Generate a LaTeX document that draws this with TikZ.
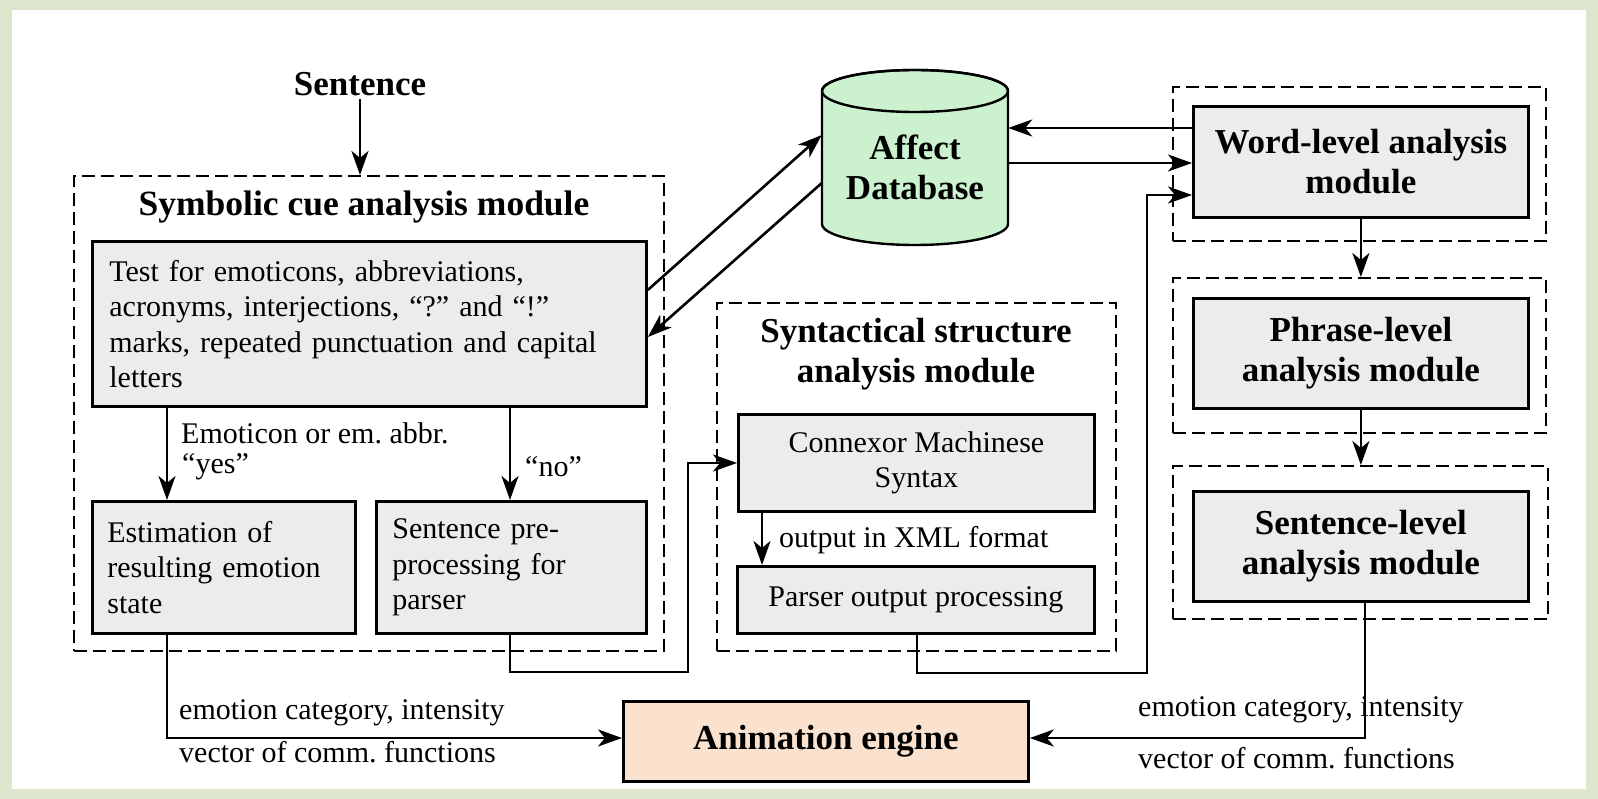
\documentclass[tikz,border=0pt]{standalone}
\usepackage{fontspec}
\setmainfont{Liberation Serif}
\usetikzlibrary{arrows.meta}
\definecolor{framegreen}{RGB}{220,230,204}
\definecolor{boxfill}{RGB}{236,236,236}
\definecolor{dbfill}{RGB}{203,241,207}
\definecolor{animfill}{RGB}{251,226,206}
\frenchspacing
\begin{document}
\begin{tikzpicture}[x=1pt,y=-1pt,
  body/.style={font=\fontsize{30}{35.5}\selectfont},
  head/.style={font=\bfseries\fontsize{35}{40}\selectfont},
  lbl/.style={body, anchor=west, inner sep=0pt},
  procbox/.style={draw, line width=2.8pt, fill=boxfill, anchor=north west, inner sep=0pt},
  modbox/.style={draw, line width=2.4pt, dash pattern=on 13pt off 6pt, anchor=north west, inner sep=0pt},
  arr/.style={line width=2.6pt, -{Stealth[length=24pt,width=17pt,inset=7pt]}},
]
\fill[framegreen] (0,0) rectangle (1598,799);
\fill[white] (12,10) rectangle (1586,789);
\useasboundingbox (0,0) rectangle (1598,799);

% Symbolic cue analysis module
\node[modbox, minimum width=590, minimum height=475] (symmod) at (73,175) {};
\node[font=\bfseries\fontsize{35.5}{40}\selectfont] (symtitle) at (364,207) {Symbolic cue analysis module};
\node[head] (sent) at (360,84) {Sentence};
\draw[arr] (sent.south) -- (sent.south |- symmod.north);

\node[procbox, body, minimum width=554, minimum height=165, text width=520, align=left] (test) at (91,240)
  {Test for emoticons, abbreviations,\\ acronyms, interjections, “?” and “!”\\ marks, repeated punctuation and capital\\ letters};
\node[procbox, body, minimum width=263, minimum height=132, text width=233, align=left] (est) at (91,500)
  {Estimation of\\ resulting emotion\\ state};
\node[procbox, body, minimum width=270, minimum height=132, text width=238, align=left] (prep) at (375,500)
  {Sentence pre-\\ processing for\\ parser};
\draw[arr] (test.south -| 167,0) -- (est.north -| 167,0);
\draw[arr] (test.south -| 510,0) -- (prep.north -| 510,0);
\node[lbl] (emo) at (181,433) {Emoticon or em. abbr.};
\node[lbl] (yes) at (182,467) {“yes”};
\node[lbl] (no) at (525,467) {“no”};

% Syntactical structure analysis module
\node[modbox, minimum width=399, minimum height=348] (synmod) at (716,302) {};
\node[head, align=center] (syntitle) at (916,354) {Syntactical structure\\ analysis module};
\node[procbox, body, minimum width=356, minimum height=97, align=center] (conn) at (737,413) {Connexor Machinese\\ Syntax};
\node[procbox, body, minimum width=357, minimum height=67] (pars) at (736,565) {Parser output processing};
\draw[arr] (conn.south -| 762,0) -- (pars.north -| 762,0);
\node[lbl] (xml) at (779,540) {output in XML format};

% Affect database
\filldraw[fill=dbfill, line width=2.4pt] (822,91) -- (822,224)
  arc[start angle=180, end angle=0, x radius=93, y radius=21] -- (1008,91)
  arc[start angle=0, end angle=-180, x radius=93, y radius=21] -- cycle;
\draw[line width=2.4pt] (915,91) ellipse[x radius=93, y radius=21];
\node[head, align=center, minimum width=186, minimum height=175, inner sep=0pt] (db) at (915,167) {Affect\\ Database};

% Right column
\node[modbox, minimum width=373, minimum height=154] (wordmod) at (1172,86) {};
\node[procbox, head, minimum width=335, minimum height=111, align=center] (word) at (1192,105) {Word-level analysis\\ module};
\node[modbox, minimum width=373, minimum height=155] (phrmod) at (1172,277) {};
\node[procbox, head, minimum width=335, minimum height=110, align=center] (phr) at (1192,297) {Phrase-level\\ analysis module};
\node[modbox, minimum width=375, minimum height=153] (senmod) at (1172,465) {};
\node[procbox, head, minimum width=335, minimum height=110, align=center] (sen) at (1192,490) {Sentence-level\\ analysis module};
\draw[arr] (word.south) -- (phrmod.north -| word.south);
\draw[arr] (phr.south) -- (senmod.north -| phr.south);

% Animation engine
\node[draw, line width=2.8pt, fill=animfill, anchor=north west, minimum width=405, minimum height=80, inner sep=0pt, head] (anim) at (622,700) {Animation engine};

% Connectors with the database
\draw[arr] (test.east |- 0,290) -- (db.west |- 0,135);
\draw[arr] (db.west |- 0,183) -- (test.east |- 0,337);
\draw[arr] (word.west |- 0,128) -- (db.east |- 0,128);
\draw[arr] (db.east |- 0,163) -- (word.west |- 0,163);

% Long connectors
\draw[arr] (pars.south -| 917,0) |- (1147,673) |- (word.west |- 0,195);
\draw[arr] (prep.south -| 510,0) |- (688,672) |- (conn.west |- 0,463);
\draw[arr] (est.south -| 167,0) |- (anim.west |- 0,738);
\draw[arr] (sen.south -| 1365,0) |- (anim.east |- 0,738);

\node[lbl] (l1) at (179,713) {emotion category, intensity};
\node[lbl] (l2) at (179,752) {vector of comm. functions};
\node[lbl] (l3) at (1138,710) {emotion category, intensity};
\node[lbl] (l4) at (1138,758) {vector of comm. functions};
\end{tikzpicture}
\end{document}
